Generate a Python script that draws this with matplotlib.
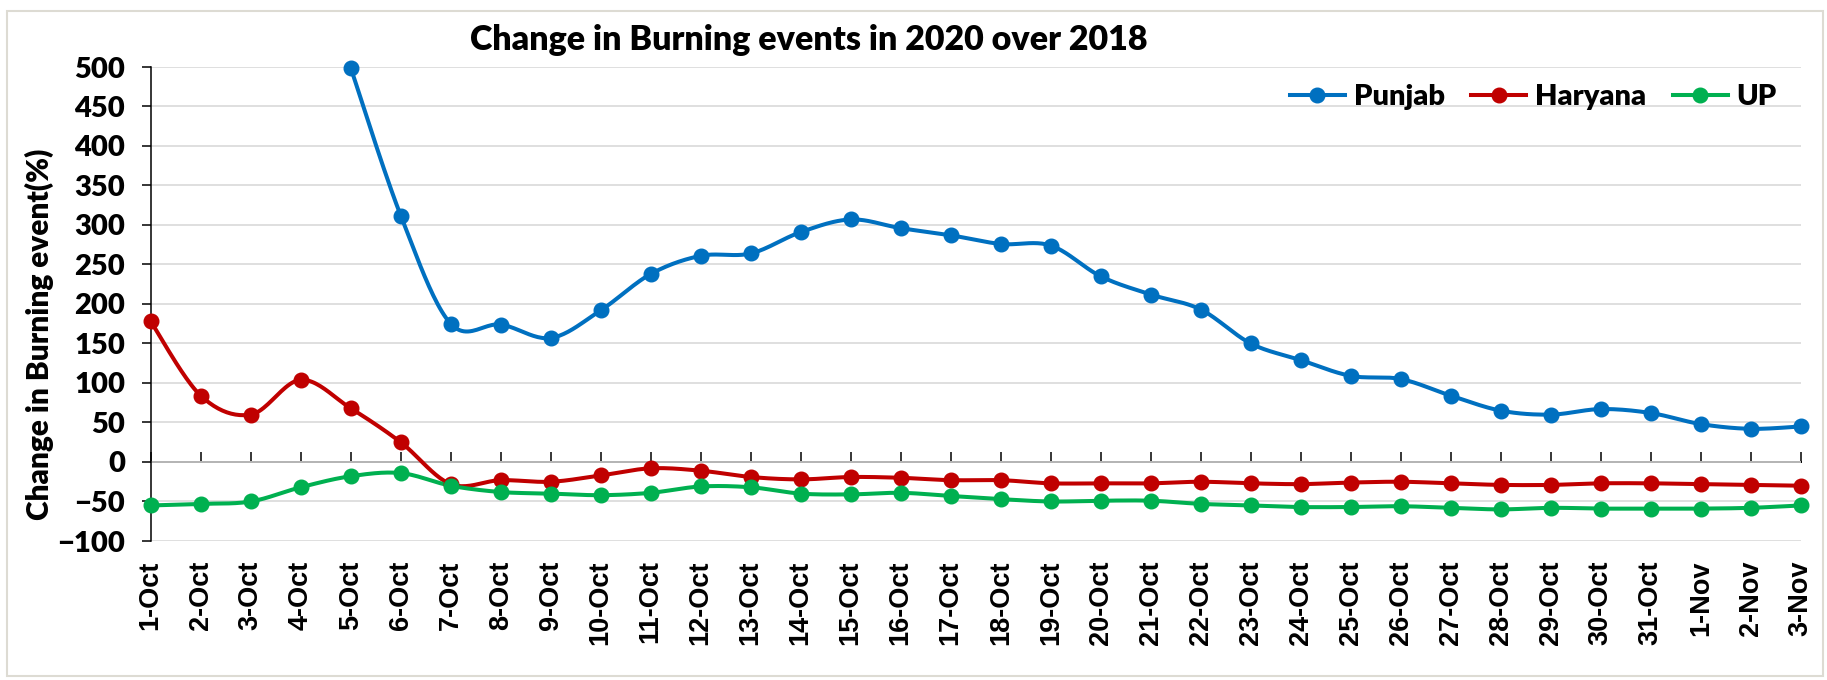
import matplotlib.pyplot as plt
import numpy as np

# Dados (variacao % de eventos de queima 2020 vs 2018)
datas = ['1-Oct', '2-Oct', '3-Oct', '4-Oct', '5-Oct', '6-Oct', '7-Oct', '8-Oct', '9-Oct',
         '10-Oct', '11-Oct', '12-Oct', '13-Oct', '14-Oct', '15-Oct', '16-Oct', '17-Oct',
         '18-Oct', '19-Oct', '20-Oct', '21-Oct', '22-Oct', '23-Oct', '24-Oct', '25-Oct',
         '26-Oct', '27-Oct', '28-Oct', '29-Oct', '30-Oct', '31-Oct', '1-Nov', '2-Nov', '3-Nov']

punjab = [np.nan, np.nan, np.nan, np.nan, 499, 312, 175, 174, 157, 192, 238, 261, 264, 291,
          307, 296, 287, 276, 274, 235, 212, 193, 150, 129, 109, 105, 84, 65, 60, 67, 62,
          48, 42, 45]
haryana = [178, 84, 60, 104, 68, 25, -28, -23, -25, -17, -8, -11, -19, -22, -19, -20, -23,
           -23, -27, -27, -27, -25, -27, -28, -26, -25, -27, -29, -29, -27, -27, -28, -29, -30]
up = [-55, -53, -50, -32, -18, -14, -30, -38, -40, -42, -39, -31, -32, -40, -41, -39, -43,
      -47, -50, -49, -49, -53, -55, -57, -57, -56, -58, -60, -58, -59, -59, -59, -58, -55]

series = [('Punjab', punjab, '#0070C0'),
          ('Haryana', haryana, '#C00000'),
          ('UP', up, '#00B050')]

plt.rcParams['font.family'] = ['Lato', 'DejaVu Sans']
PESO = 'heavy'


def suavizar(x, y, passos=24):
    # curva tipo "linha suavizada" do Excel (bezier com tangentes de Catmull-Rom)
    x = np.asarray(x, float)
    y = np.asarray(y, float)
    ok = ~np.isnan(y)
    x, y = x[ok], y[ok]
    n = len(x)
    xs, ys = [], []
    t = np.linspace(0, 1, passos)
    for i in range(n - 1):
        p0 = np.array([x[max(i - 1, 0)], y[max(i - 1, 0)]])
        p1 = np.array([x[i], y[i]])
        p2 = np.array([x[i + 1], y[i + 1]])
        p3 = np.array([x[min(i + 2, n - 1)], y[min(i + 2, n - 1)]])
        c1 = p1 + (p2 - p0) / 6
        c2 = p2 - (p3 - p1) / 6
        for tt in t:
            b = ((1 - tt) ** 3) * p1 + 3 * ((1 - tt) ** 2) * tt * c1 \
                + 3 * (1 - tt) * tt ** 2 * c2 + tt ** 3 * p2
            xs.append(b[0])
            ys.append(b[1])
    return xs, ys


def plotar():
    fig = plt.figure(figsize=(18.27, 6.8), dpi=100)
    ax = fig.add_axes([150.7 / 1827, 1 - 541 / 680, (1800.8 - 150.7) / 1827, (541 - 67) / 680])

    x = np.arange(len(datas))
    for nome, valores, cor in series:
        xs, ys = suavizar(x, valores)
        ax.plot(xs, ys, color=cor, linewidth=2.9, solid_capstyle='round', clip_on=False, zorder=3)
        ax.plot(x, valores, linestyle='none', marker='o', markersize=10.5, color=cor,
                clip_on=False, zorder=4)
        # entrada da legenda
        ax.plot([], [], color=cor, linewidth=2.9, marker='o', markersize=10.5, label=nome)

    ax.set_xlim(0, len(datas) - 1)
    ax.set_ylim(-100, 500)
    ax.set_yticks(range(-100, 501, 50))
    ax.yaxis.grid(True, color='#D9D9D9', linewidth=1.2)
    ax.set_axisbelow(True)

    for lado in ['top', 'right', 'bottom']:
        ax.spines[lado].set_visible(False)
    ax.spines['left'].set_linewidth(1.1)

    ax.tick_params(axis='y', direction='out', length=6.5, width=1.1, pad=12, labelsize=21)
    for lbl in ax.get_yticklabels():
        lbl.set_fontweight(PESO)

    ax.set_xticks(x)
    ax.set_xticklabels(datas, rotation=90, fontsize=19.5, fontweight='bold',
                       family='Liberation Sans', va='top')
    ax.tick_params(axis='x', length=0, pad=14)

    # eixo horizontal no zero com marcas para cima
    eixo0 = ax.secondary_xaxis(100 / 600)
    eixo0.set_xticks(x)
    eixo0.set_xticklabels([])
    eixo0.tick_params(direction='in', length=7, width=1.1, color='black')
    eixo0.spines['bottom'].set_linewidth(1.4)

    fig.text(809 / 1827, 1 - 40 / 680, 'Change in Burning events in 2020 over 2018',
             ha='center', va='center', fontsize=24.5, fontweight=PESO)
    fig.text(39 / 1827, 1 - 334 / 680, 'Change in Burning event(%)', rotation=90,
             ha='center', va='center', fontsize=21.5, fontweight=PESO)

    ax.legend(loc='center right', bbox_to_anchor=(1777 / 1827, 1 - 97 / 680),
              bbox_transform=fig.transFigure, ncol=3, frameon=False, borderpad=0,
              borderaxespad=0, handlelength=1.9, handletextpad=0.3, columnspacing=0.9,
              prop={'size': 21, 'weight': PESO})

    fig.patches.append(plt.Rectangle((7 / 1827, 4 / 680), 1816 / 1827, 665 / 680,
                                     transform=fig.transFigure, fill=False,
                                     edgecolor='#DDDBD3', linewidth=1.5))

    plt.savefig('out.png', dpi=100)
    plt.close()


if __name__ == '__main__':
    plotar()
